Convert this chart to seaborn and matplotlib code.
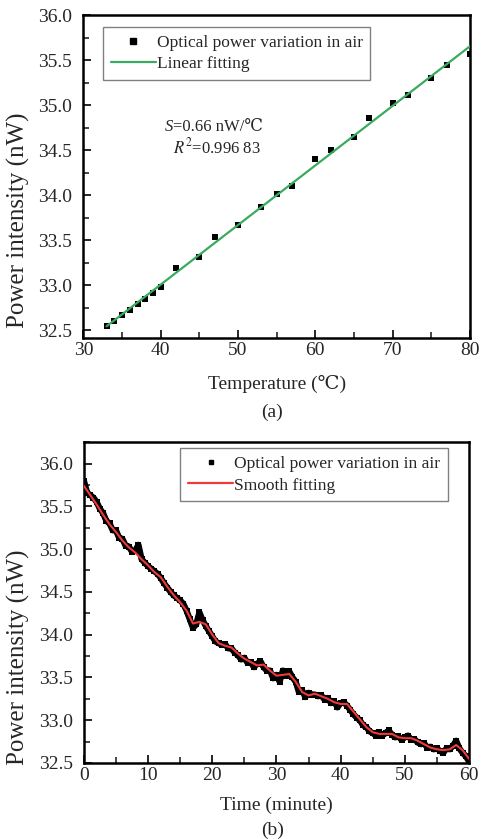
import numpy as np
import pandas as pd
import matplotlib.pyplot as plt
import seaborn as sns
from matplotlib.ticker import MultipleLocator
from matplotlib.lines import Line2D

# panel (a): power vs temperature
temperature = [33, 34, 35, 36, 37, 38, 39, 40, 42, 45, 47, 50, 53, 55, 57,
               60, 62, 65, 67, 70, 72, 75, 77, 80]
power_temp = [32.54, 32.60, 32.67, 32.72, 32.79, 32.84, 32.91, 32.98, 33.19,
              33.31, 33.53, 33.67, 33.87, 34.01, 34.10, 34.40, 34.50, 34.65,
              34.86, 35.02, 35.11, 35.30, 35.44, 35.57]

# panel (b): power vs time (raw readings every 0.5 min)
time_raw = [i * 0.5 for i in range(121)]
power_raw = [35.80, 35.66, 35.63, 35.60, 35.55, 35.47, 35.42, 35.33, 35.30, 35.22,
             35.22, 35.13, 35.12, 35.04, 35.03, 34.97, 34.98, 35.05, 34.88, 34.84,
             34.80, 34.77, 34.74, 34.71, 34.66, 34.60, 34.55, 34.50, 34.46, 34.43,
             34.40, 34.36, 34.28, 34.18, 34.08, 34.12, 34.26, 34.17, 34.10, 34.04,
             33.98, 33.92, 33.90, 33.88, 33.89, 33.84, 33.84, 33.79, 33.76, 33.71,
             33.73, 33.67, 33.68, 33.62, 33.66, 33.69, 33.62, 33.58, 33.58, 33.49,
             33.53, 33.45, 33.58, 33.52, 33.57, 33.50, 33.45, 33.33, 33.35, 33.27,
             33.32, 33.30, 33.30, 33.28, 33.29, 33.24, 33.26, 33.20, 33.22, 33.15,
             33.20, 33.21, 33.17, 33.12, 33.07, 33.03, 33.00, 32.94, 32.92, 32.87,
             32.85, 32.82, 32.86, 32.82, 32.85, 32.88, 32.83, 32.80, 32.81, 32.77,
             32.80, 32.82, 32.77, 32.78, 32.74, 32.72, 32.73, 32.68, 32.69, 32.66,
             32.67, 32.64, 32.62, 32.67, 32.66, 32.70, 32.76, 32.67, 32.62, 32.58,
             32.52]

# smooth fitting curve, read every minute
time_smooth = list(range(61))
power_smooth = [35.74, 35.63, 35.52, 35.40, 35.29, 35.20, 35.10, 35.02, 34.96, 34.88,
                34.81, 34.73, 34.67, 34.56, 34.46, 34.38, 34.28, 34.13, 34.15, 34.12,
                34.00, 33.90, 33.87, 33.85, 33.78, 33.72, 33.68, 33.64, 33.65, 33.58,
                33.52, 33.53, 33.54, 33.45, 33.33, 33.29, 33.31, 33.28, 33.25, 33.21,
                33.19, 33.19, 33.10, 33.01, 32.92, 32.86, 32.84, 32.84, 32.84, 32.80,
                32.79, 32.79, 32.76, 32.72, 32.68, 32.66, 32.65, 32.66, 32.71, 32.65,
                32.55]

sns.set_style("ticks")
plt.rcParams['font.family'] = ['Liberation Serif', 'DejaVu Serif']
plt.rcParams['mathtext.fontset'] = 'stix'

green = "#3aaa5e"
red = "#f03a3a"
fs = 14
yl_fs = 18
leg_kw = dict(fontsize=12.5, frameon=True, fancybox=False, edgecolor='#808080',
              framealpha=1, handlelength=2.6, handletextpad=0.05, borderpad=0.45,
              labelspacing=0.3, borderaxespad=0)

fig = plt.figure(figsize=(4.82, 8.39), dpi=100)
ax1 = fig.add_axes([0.173, 0.597, 0.802, 0.385])
ax2 = fig.add_axes([0.174, 0.0906, 0.799, 0.3824])

df_a = pd.DataFrame({'T': temperature, 'P': power_temp})
coef = np.polyfit(df_a['T'], df_a['P'], 1)
fit_x = np.array([df_a['T'].min(), df_a['T'].max()])
df_fit = pd.DataFrame({'T': fit_x, 'P': np.polyval(coef, fit_x)})

sns.scatterplot(data=df_a, x='T', y='P', ax=ax1, marker='s', s=22,
                color='black', edgecolor='black', linewidth=0, zorder=2)
sns.lineplot(data=df_fit, x='T', y='P', ax=ax1, color=green, linewidth=1.6, zorder=3)

ax1.set_xlim(30, 80)
ax1.set_ylim(32.41, 36.0)
ax1.xaxis.set_major_locator(MultipleLocator(10))
ax1.xaxis.set_minor_locator(MultipleLocator(5))
ax1.yaxis.set_major_locator(MultipleLocator(0.5))
ax1.yaxis.set_minor_locator(MultipleLocator(0.25))
ax1.yaxis.set_major_formatter(plt.FormatStrFormatter('%.1f'))
ax1.set_xlabel('Temperature (℃)', fontsize=fs, labelpad=11)
ax1.set_ylabel('Power intensity (nW)', fontsize=yl_fs)
ax1.yaxis.set_label_coords(-0.138, 0.365)

s_txt = ax1.text(0.211, 0.641, 'S', style='italic', transform=ax1.transAxes,
                 ha='left', va='baseline', fontsize=12)
ax1.annotate('=0.66 nW/℃', xy=(1, 0), xycoords=s_txt, va='bottom',
             ha='left', fontsize=12)
ax1.text(0.232, 0.573, '$R^2$=0.996 83', transform=ax1.transAxes,
         ha='left', va='baseline', fontsize=12)

h1 = [Line2D([], [], color='none', marker='s', markersize=5,
             markerfacecolor='black', markeredgecolor='black'),
      Line2D([], [], color=green, linewidth=1.6)]
ax1.legend(h1, ['Optical power variation in air', 'Linear fitting'],
           loc='upper left', bbox_to_anchor=(0.05, 0.963), **leg_kw)
fig.text(0.565, 1 - 412 / 839, '(a)', ha='center', va='center', fontsize=fs)

df_raw = pd.DataFrame({'t': time_raw, 'P': power_raw})
df_smooth = pd.DataFrame({'t': time_smooth, 'P': power_smooth})
sns.lineplot(data=df_raw, x='t', y='P', ax=ax2, color='black', linewidth=4.5,
             marker='s', markersize=4, markeredgewidth=0, zorder=2)
sns.lineplot(data=df_smooth, x='t', y='P', ax=ax2, color=red, linewidth=1.5, zorder=3)

ax2.set_xlim(0, 60)
ax2.set_ylim(32.5, 36.25)
ax2.xaxis.set_major_locator(MultipleLocator(10))
ax2.xaxis.set_minor_locator(MultipleLocator(5))
ax2.yaxis.set_major_locator(MultipleLocator(0.5))
ax2.yaxis.set_minor_locator(MultipleLocator(0.25))
ax2.yaxis.set_major_formatter(plt.FormatStrFormatter('%.1f'))
ax2.set_xlabel('Time (minute)', fontsize=fs, labelpad=9)
ax2.set_ylabel('Power intensity (nW)', fontsize=yl_fs)
ax2.yaxis.set_label_coords(-0.14, 0.33)
h2 = [Line2D([], [], color='none', marker='s', markersize=3,
             markerfacecolor='black', markeredgecolor='black'),
      Line2D([], [], color=red, linewidth=1.6)]
ax2.legend(h2, ['Optical power variation in air', 'Smooth fitting'],
           loc='upper right', bbox_to_anchor=(0.945, 0.981), **leg_kw)
fig.text(0.565, 1 - 830 / 839, '(b)', ha='center', va='center', fontsize=fs)

for ax in (ax1, ax2):
    for sp in ax.spines.values():
        sp.set_visible(True)
        sp.set_linewidth(1.8)
        sp.set_color('black')
    ax.tick_params(which='major', direction='in', length=6, width=1.4,
                   labelsize=fs, top=False, right=False)
    ax.tick_params(axis='x', which='major', pad=3)
    ax.tick_params(axis='y', which='major', pad=8)
    ax.tick_params(which='minor', direction='in', length=4, width=1.2,
                   top=False, right=False)
    ax.grid(False)

fig.savefig('out.png', dpi=100)
